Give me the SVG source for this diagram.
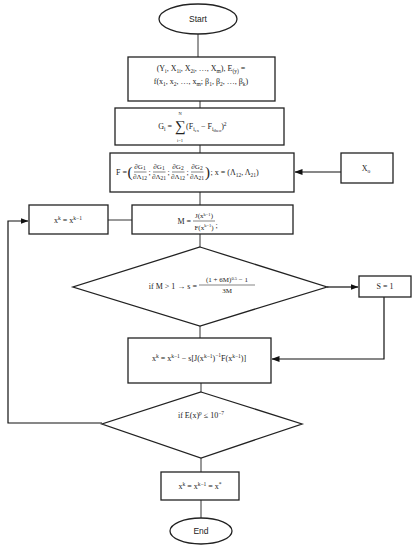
<svg xmlns="http://www.w3.org/2000/svg" width="416" height="550" viewBox="0 0 416 550">
<defs>
<marker id="ah" markerWidth="8" markerHeight="6" refX="7.5" refY="3" orient="auto" markerUnits="userSpaceOnUse">
<path d="M0,0 L8,3 L0,6 Z" fill="#111"/>
</marker>
<style>
.shape{fill:#fff;stroke:#222;stroke-width:1.3}
.ln{fill:none;stroke:#333;stroke-width:1}
.bar{fill:none;stroke:#333;stroke-width:0.6}
.arr{fill:none;stroke:#111;stroke-width:1.2;marker-end:url(#ah)}
text{font-family:"Liberation Serif","DejaVu Serif",serif;font-size:8px;fill:#222}
.c{text-anchor:middle}
.e{text-anchor:end}
.s{font-size:5.5px}
.ss{font-size:4.5px}
.f{font-size:7px}
.p{font-size:15px}
.lbl{font-family:"Liberation Sans","DejaVu Sans",sans-serif;font-size:8.5px}
</style>
</defs>
<rect width="416" height="550" fill="#fff"/>

<g id="connectors">
<line class="ln" x1="198" y1="34" x2="198" y2="57"/>
<line class="ln" x1="200" y1="101" x2="200" y2="108"/>
<line class="ln" x1="200" y1="145" x2="200" y2="153"/>
<line class="ln" x1="200" y1="192" x2="200" y2="205"/>
<line class="ln" x1="200" y1="234" x2="200" y2="247"/>
<line class="ln" x1="108" y1="220" x2="132" y2="220"/>
<line class="ln" x1="200" y1="326" x2="200" y2="338"/>
<line class="ln" x1="201" y1="383" x2="201" y2="392"/>
<line class="ln" x1="201" y1="458" x2="201" y2="472"/>
<line class="ln" x1="201" y1="500" x2="201" y2="518"/>
<line class="arr" x1="341" y1="172" x2="295" y2="172"/>
<line class="arr" x1="327" y1="287" x2="358" y2="287"/>
<polyline class="arr" points="384,297 384,359 272,359"/>
<polyline class="arr" points="102,423 8,423 8,221 28,221"/>
</g>

<g id="start">
<ellipse class="shape" cx="198" cy="19" rx="39" ry="15"/>
<text class="c lbl" x="198" y="22">Start</text>
</g>

<g id="input">
<rect class="shape" x="128" y="57" width="147" height="44"/>
<text class="c" x="201" y="71">(Y<tspan class="s" dy="1.5">i</tspan><tspan dy="-1.5">, X</tspan><tspan class="s" dy="1.5">1i</tspan><tspan dy="-1.5">, X</tspan><tspan class="s" dy="1.5">2i</tspan><tspan dy="-1.5">, …, X</tspan><tspan class="s" dy="1.5">m</tspan><tspan dy="-1.5">), E</tspan><tspan class="s" dy="1.5">(y)</tspan><tspan dy="-1.5"> =</tspan></text>
<text class="c" x="201" y="84">f(x<tspan class="s" dy="1.5">1</tspan><tspan dy="-1.5">, x</tspan><tspan class="s" dy="1.5">2</tspan><tspan dy="-1.5">, …, x</tspan><tspan class="s" dy="1.5">m</tspan><tspan dy="-1.5">; β</tspan><tspan class="s" dy="1.5">1</tspan><tspan dy="-1.5">, β</tspan><tspan class="s" dy="1.5">2</tspan><tspan dy="-1.5">, …, β</tspan><tspan class="s" dy="1.5">k</tspan><tspan dy="-1.5">)</tspan></text>
</g>

<g id="objective">
<rect class="shape" x="115" y="108" width="169" height="37"/>
<text class="e" x="172" y="129">G<tspan class="s" dy="1.5">i</tspan><tspan dy="-1.5"> =</tspan></text>
<text class="c" x="180" y="131" style="font-size:15px">∑</text>
<text class="c ss" x="180" y="115">N</text>
<text class="c ss" x="180" y="142">i=1</text>
<text x="186" y="129">(F<tspan class="s" dy="1.5">i</tspan><tspan class="ss" dy="1">ex</tspan><tspan dy="-2.5"> − F</tspan><tspan class="s" dy="1.5">i</tspan><tspan class="ss" dy="1">theo</tspan><tspan dy="-2.5">)</tspan><tspan class="s" dy="-3.5">2</tspan></text>
</g>

<g id="jacobian">
<rect class="shape" x="110" y="153" width="184" height="39"/>
<text class="e" x="127" y="175">F =</text>
<text class="p" x="127.5" y="177">(</text>
<text class="c f" x="140" y="169">∂G<tspan class="s" dy="1.2">1</tspan></text>
<line class="bar" x1="134" y1="172" x2="146.5" y2="172"/>
<text class="c f" x="140" y="179">∂Λ<tspan class="s" dy="1.2">12</tspan></text>
<text class="c" x="149.5" y="175">;</text>
<text class="c f" x="159" y="169">∂G<tspan class="s" dy="1.2">1</tspan></text>
<line class="bar" x1="153" y1="172" x2="165.5" y2="172"/>
<text class="c f" x="159" y="179">∂Λ<tspan class="s" dy="1.2">21</tspan></text>
<text class="c" x="168.5" y="175">;</text>
<text class="c f" x="178" y="169">∂G<tspan class="s" dy="1.2">2</tspan></text>
<line class="bar" x1="172" y1="172" x2="184.5" y2="172"/>
<text class="c f" x="178" y="179">∂Λ<tspan class="s" dy="1.2">12</tspan></text>
<text class="c" x="187.5" y="175">;</text>
<text class="c f" x="197" y="169">∂G<tspan class="s" dy="1.2">2</tspan></text>
<line class="bar" x1="191" y1="172" x2="203.5" y2="172"/>
<text class="c f" x="197" y="179">∂Λ<tspan class="s" dy="1.2">21</tspan></text>
<text class="p" x="205" y="177">)</text>
<text x="210.5" y="175">; x = (Λ<tspan class="s" dy="1.5">12</tspan><tspan dy="-1.5">, Λ</tspan><tspan class="s" dy="1.5">21</tspan><tspan dy="-1.5">)</tspan></text>
</g>

<g id="x0">
<rect class="shape" x="341" y="153" width="52" height="30"/>
<text class="c" x="366" y="171">X<tspan class="s" dy="1.5">o</tspan></text>
</g>

<g id="update-x">
<rect class="shape" x="29" y="205" width="79" height="29"/>
<text class="c" x="68" y="223">x<tspan class="s" dy="-3">k</tspan><tspan dy="3"> = x</tspan><tspan class="s" dy="-3">k−1</tspan></text>
</g>

<g id="ratio">
<rect class="shape" x="132" y="205" width="161" height="29"/>
<text class="e" x="191" y="224">M =</text>
<text class="c f" x="204" y="218">J(x<tspan class="ss" dy="-2.5">k−1</tspan><tspan dy="2.5">)</tspan></text>
<line class="bar" x1="193" y1="221" x2="215" y2="221"/>
<text class="c f" x="204" y="229.5">F(x<tspan class="ss" dy="-2.5">k−1</tspan><tspan dy="2.5">)</tspan></text>
<text x="215.5" y="228">;</text>
</g>

<g id="decision-m">
<polygon class="shape" points="200,247 327,287 200,326 73,287"/>
<text class="e" x="197" y="289">if M &gt; 1 → s =</text>
<text class="c f" x="227" y="282">(1 + 6M)<tspan class="ss" dy="-2.5">0.5</tspan><tspan dy="2.5"> − 1</tspan></text>
<line class="bar" x1="199" y1="285" x2="255" y2="285"/>
<text class="c f" x="227" y="293">3M</text>
</g>

<g id="s-one">
<rect class="shape" x="359" y="276" width="52" height="21"/>
<text class="c" x="385" y="289">S = 1</text>
</g>

<g id="newton-step">
<rect class="shape" x="128" y="338" width="143" height="45"/>
<text class="c" x="199" y="361">x<tspan class="s" dy="-3">k</tspan><tspan dy="3"> = x</tspan><tspan class="s" dy="-3">k−1</tspan><tspan dy="3"> − s[J(x</tspan><tspan class="s" dy="-3">k−1</tspan><tspan dy="3">)</tspan><tspan class="s" dy="-4">−1</tspan><tspan dy="4">F(x</tspan><tspan class="s" dy="-3">k−1</tspan><tspan dy="3">)]</tspan></text>
</g>

<g id="decision-error">
<polygon class="shape" points="201,392 302,424 201,458 102,424"/>
<text class="c" x="201" y="418">if E(x)<tspan class="s" dy="-3">p</tspan><tspan dy="3"> ≤ 10</tspan><tspan class="s" dy="-3">−7</tspan></text>
</g>

<g id="solution">
<rect class="shape" x="161" y="472" width="78" height="28"/>
<text class="c" x="200" y="489">x<tspan class="s" dy="-3">k</tspan><tspan dy="3"> = x</tspan><tspan class="s" dy="-3">k−1</tspan><tspan dy="3"> = x</tspan><tspan class="s" dy="-3">*</tspan></text>
</g>

<g id="end">
<ellipse class="shape" cx="201" cy="531" rx="31" ry="13"/>
<text class="c lbl" x="201" y="534">End</text>
</g>
</svg>
